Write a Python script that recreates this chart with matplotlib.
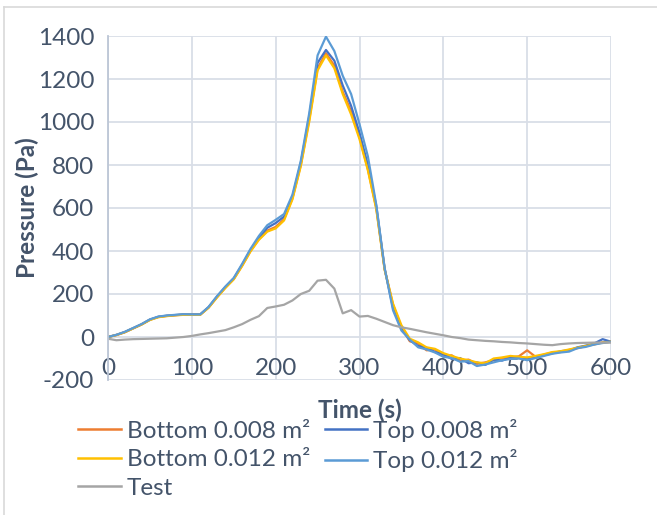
import matplotlib
matplotlib.use('Agg')
import matplotlib.pyplot as plt
from matplotlib.lines import Line2D

plt.rcParams['font.family'] = ['Lato', 'DejaVu Sans']
plt.rcParams['axes.unicode_minus'] = False

time_s = [0, 10, 20, 30, 40, 50, 60, 70, 80, 90,
          100, 110, 120, 130, 140, 150, 160, 170, 180, 190,
          200, 210, 220, 230, 240, 250, 260, 270, 280, 290,
          300, 310, 320, 330, 340, 350, 360, 370, 380, 390,
          400, 410, 420, 430, 440, 450, 460, 470, 480, 490,
          500, 510, 520, 530, 540, 550, 560, 570, 580, 590, 600]

bottom_008 = [0, 9, 22, 40, 58, 80, 93, 98, 101, 104,
              104, 104, 137, 185, 230, 270, 332, 400, 455, 495,
              512, 548, 645, 800, 1010, 1250, 1320, 1262, 1140, 1050,
              930, 780, 600, 315, 150, 45, -20, -30, -62, -58,
              -90, -85, -112, -105, -125, -118, -108, -98, -95, -90,
              -62, -92, -82, -72, -70, -60, -52, -42, -35, -25, -22]

top_008 = [0, 10, 23, 41, 59, 81, 94, 99, 102, 105,
           105, 105, 139, 188, 232, 272, 336, 405, 462, 508,
           530, 560, 652, 810, 1025, 1275, 1335, 1285, 1170, 1075,
           950, 800, 610, 318, 135, 38, -15, -42, -50, -70,
           -80, -102, -98, -122, -118, -130, -105, -110, -96, -98,
           -100, -96, -85, -76, -66, -62, -48, -40, -30, -10, -22]

bottom_012 = [0, 9, 22, 40, 58, 79, 92, 97, 101, 103,
              103, 103, 136, 184, 228, 268, 330, 398, 452, 490,
              505, 542, 640, 795, 1000, 1240, 1310, 1250, 1130, 1035,
              920, 775, 595, 312, 155, 55, -8, -25, -48, -55,
              -75, -88, -100, -108, -118, -122, -100, -95, -88, -92,
              -95, -88, -80, -70, -66, -58, -50, -42, -33, -26, -22]

top_012 = [0, 10, 24, 42, 60, 82, 95, 100, 103, 106,
           105, 105, 140, 190, 235, 275, 340, 410, 470, 520,
           545, 572, 662, 820, 1040, 1310, 1397, 1330, 1215, 1130,
           990, 840, 615, 320, 124, 30, -12, -48, -58, -72,
           -92, -98, -115, -112, -135, -128, -118, -108, -102, -100,
           -108, -98, -88, -78, -72, -68, -52, -46, -35, -28, -23]

test = [-8, -15, -12, -10, -9, -8, -7, -6, -3, 0,
        5, 12, 18, 25, 32, 45, 60, 80, 97, 135,
        142, 150, 170, 200, 215, 262, 266, 225, 110, 125,
        95, 98, 85, 70, 55, 45, 38, 30, 22, 15,
        8, 0, -5, -12, -15, -18, -20, -23, -25, -28,
        -30, -33, -36, -38, -33, -30, -28, -27, -26, -26, -26]

series = [
    ('Bottom 0.008 m²', bottom_008, '#ED7D31'),
    ('Top 0.008 m²', top_008, '#4472C4'),
    ('Bottom 0.012 m²', bottom_012, '#FFC000'),
    ('Top 0.012 m²', top_012, '#5B9BD5'),
    ('Test', test, '#A5A5A5'),
]

text_col = '#44546A'
grid_col = '#D9DEE7'

fig = plt.figure(figsize=(6.57, 5.15), dpi=100)
ax = fig.add_axes([108 / 657, 1 - 380 / 515, 503 / 657, 344 / 515])

lines = {}
for name, vals, col in series:
    ln, = ax.plot(time_s, vals, color=col, lw=1.6, solid_joinstyle='round')
    lines[name] = ln

ax.set_xlim(0, 600)
ax.set_ylim(-200, 1400)
ax.set_xticks(range(0, 601, 100))
ax.set_yticks(range(-200, 1401, 200))
ax.grid(True, color=grid_col, lw=1.3)
ax.set_axisbelow(True)
for side in ['top', 'right', 'bottom']:
    ax.spines[side].set_visible(False)
ax.spines['left'].set_color('#BCC6D6')
ax.spines['left'].set_linewidth(1.3)

ax.tick_params(axis='both', length=0, labelsize=17.5, labelcolor=text_col)
ax.tick_params(axis='x', pad=-16)
ax.tick_params(axis='y', pad=10)

ax.set_xlabel('Time (s)', fontsize=17.5, fontweight='bold', color=text_col)
ax.xaxis.set_label_coords(0.5, -0.055)
ax.set_ylabel('Pressure (Pa)', fontsize=17.5, fontweight='bold', color=text_col)
ax.yaxis.set_label_coords(-0.137, 0.5)

order = ['Bottom 0.008 m²', 'Bottom 0.012 m²', 'Test', 'Top 0.008 m²', 'Top 0.012 m²']
handles = [Line2D([], [], color=lines[n].get_color(), lw=1.8) for n in order]
leg = fig.legend(handles, order, loc='upper left', bbox_to_anchor=(78 / 657, 1 - 419 / 515),
                 ncol=2, frameon=False, fontsize=17.5, handlelength=1.75,
                 handletextpad=0.25, columnspacing=0.6, labelspacing=0.3,
                 borderpad=0, borderaxespad=0)
for t in leg.get_texts():
    t.set_color(text_col)

# chart border (left and top edges visible)
fig.add_artist(Line2D([4 / 657, 4 / 657], [0, 1 - 7 / 515], color='#D9D9D9', lw=1.2,
                      transform=fig.transFigure))
fig.add_artist(Line2D([4 / 657, 1], [1 - 7 / 515, 1 - 7 / 515], color='#D9D9D9', lw=1.2,
                      transform=fig.transFigure))

fig.savefig('out.png', dpi=100)
